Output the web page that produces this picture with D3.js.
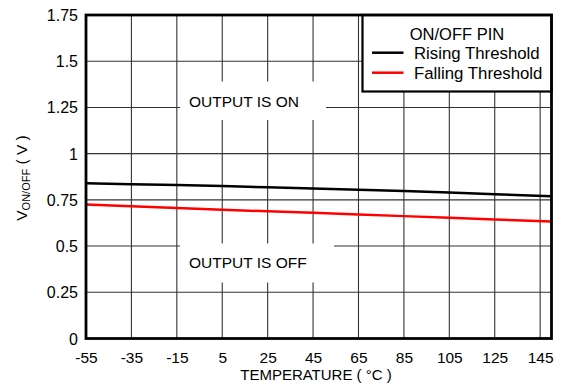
<!DOCTYPE html>
<html><head><meta charset="utf-8">
<script src="https://cdn.jsdelivr.net/npm/d3@7"></script>
<style>body{margin:0;background:#fff}svg{display:block}text{font-family:"Liberation Sans",Arial,sans-serif;fill:#000}</style>
</head><body><svg id="c" width="566" height="389"></svg>
<script>
const temps = [-55, -35, -15, 5, 25, 45, 65, 85, 105, 125, 150];
const rising = [0.84, 0.835, 0.83, 0.825, 0.818, 0.811, 0.805, 0.798, 0.79, 0.78, 0.77];
const falling = [0.725, 0.715, 0.706, 0.697, 0.688, 0.68, 0.671, 0.662, 0.653, 0.644, 0.633];
const xTicks = [-55, -35, -15, 5, 25, 45, 65, 85, 105, 125, 145];
const yTicks = [0, 0.25, 0.5, 0.75, 1, 1.25, 1.5, 1.75];
const seriesNames = ["Rising Threshold", "Falling Threshold"];
const seriesColors = ["#000000", "#ff0000"];

const svg = d3.select("#c");
const L = 86, R = 551.5, T = 15, B = 338.5;
const x = d3.scaleLinear().domain([-55, 150]).range([L, R]);
const y = d3.scaleLinear().domain([0, 1.75]).range([B, T]);

// grid
const g = svg.append("g");
g.selectAll("line.v").data(xTicks.slice(1)).join("line")
  .attr("x1", d => x(d)).attr("x2", d => x(d)).attr("y1", T).attr("y2", B)
  .attr("stroke", "#333").attr("stroke-width", 1.1);
g.selectAll("line.h").data(yTicks.slice(1, -1)).join("line")
  .attr("x1", L).attr("x2", R).attr("y1", d => y(d)).attr("y2", d => y(d))
  .attr("stroke", "#333").attr("stroke-width", 1.1);

// region label boxes
const regions = [
  {text: "OUTPUT IS ON", x0: 180, x1: 326, y0: 81.5, y1: 120, tx: 189, ty: 106.7},
  {text: "OUTPUT IS OFF", x0: 180, x1: 334, y0: 243.5, y1: 282.5, tx: 189, ty: 267.7}
];
regions.forEach(r => {
  svg.append("rect").attr("x", r.x0).attr("y", r.y0).attr("width", r.x1 - r.x0).attr("height", r.y1 - r.y0).attr("fill", "#fff");
  svg.append("text").attr("x", r.tx).attr("y", r.ty).attr("font-size", 15.5).text(r.text);
});

// series lines
const line = d3.line().x(d => x(d[0])).y(d => y(d[1]));
[rising, falling].forEach((s, i) => {
  svg.append("path").datum(temps.map((t, j) => [t, s[j]]))
    .attr("d", line).attr("fill", "none").attr("stroke", seriesColors[i]).attr("stroke-width", 2.5);
});

// legend
const lg = svg.append("g");
lg.append("rect").attr("x", 362.5).attr("y", T).attr("width", R - 362.5).attr("height", 76.5)
  .attr("fill", "#fff").attr("stroke", "#000").attr("stroke-width", 2.2);
lg.append("text").attr("x", 457).attr("y", 39.5).attr("text-anchor", "middle").attr("font-size", 16.5).text("ON/OFF PIN");
seriesNames.forEach((n, i) => {
  const yy = 52.7 + i * 20;
  lg.append("line").attr("x1", 372).attr("x2", 403.5).attr("y1", yy).attr("y2", yy)
    .attr("stroke", seriesColors[i]).attr("stroke-width", 2.5);
  lg.append("text").attr("x", 414).attr("y", yy + 5.8).attr("font-size", 16.8).text(n);
});

// frame
svg.append("rect").attr("x", L).attr("y", T).attr("width", R - L).attr("height", B - T)
  .attr("fill", "none").attr("stroke", "#000").attr("stroke-width", 2.8);

// axes (labels only)
const xa = svg.append("g").attr("transform", `translate(0,${B})`)
  .call(d3.axisBottom(x).tickValues(xTicks).tickSize(0).tickPadding(0).tickFormat(d => String(d)));
xa.select(".domain").remove();
xa.selectAll("text").attr("font-size", 15.5).attr("dy", null).attr("y", 24.5)
  .attr("font-family", "Liberation Sans, Arial, sans-serif").attr("fill", "#000");

const ya = svg.append("g").attr("transform", `translate(${L},0)`)
  .call(d3.axisLeft(y).tickValues(yTicks).tickSize(0).tickPadding(0).tickFormat(d => String(d)));
ya.select(".domain").remove();
ya.selectAll("text").attr("font-size", 16).attr("dy", null).attr("y", 5.5).attr("x", -8)
  .attr("font-family", "Liberation Sans, Arial, sans-serif").attr("fill", "#000");

// axis titles
svg.append("text").attr("x", 316).attr("y", 380).attr("text-anchor", "middle").attr("font-size", 15)
  .text("TEMPERATURE ( °C )");
const yt = svg.append("text").attr("transform", "translate(27,178) rotate(-90)").attr("text-anchor", "middle").attr("font-size", 15.5);
yt.append("tspan").text("V");
yt.append("tspan").attr("font-size", 11).attr("dy", 3).text("ON/OFF");
yt.append("tspan").attr("dy", -3).text(" ( V )");
</script></body></html>
